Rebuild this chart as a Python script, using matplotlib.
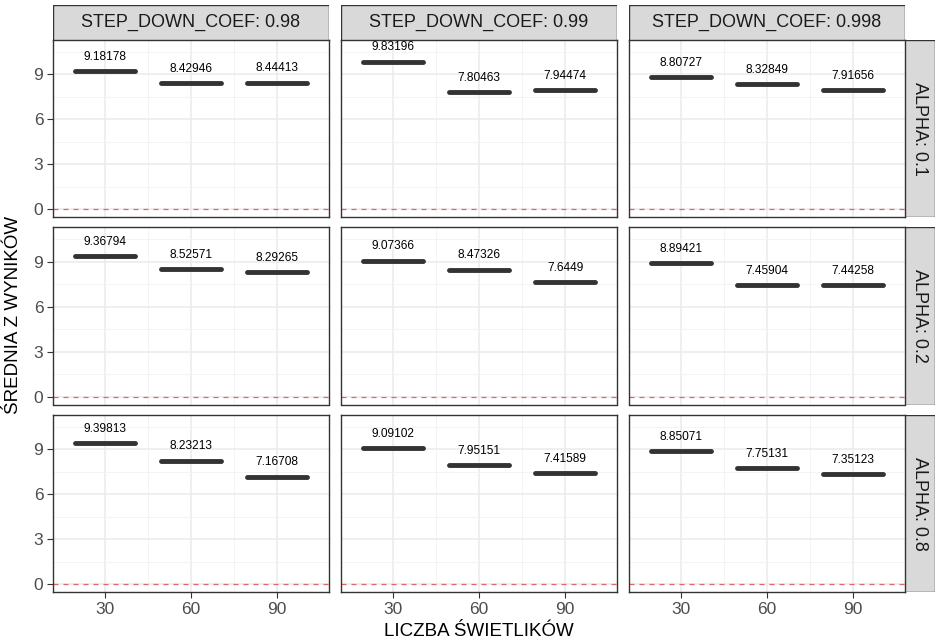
import numpy as np
import matplotlib
matplotlib.use("Agg")
import matplotlib.pyplot as plt
from matplotlib.patches import Rectangle

plt.rcParams['font.family'] = ['Liberation Sans', 'DejaVu Sans']

# data
swietliki = [30, 60, 90]
step_coefs = ["0.98", "0.99", "0.998"]
alphas = ["0.1", "0.2", "0.8"]

alpha_01 = [[9.18178, 8.42946, 8.44413],
            [9.83196, 7.80463, 7.94474],
            [8.80727, 8.32849, 7.91656]]
alpha_02 = [[9.36794, 8.52571, 8.29265],
            [9.07366, 8.47326, 7.6449],
            [8.89421, 7.45904, 7.44258]]
alpha_08 = [[9.39813, 8.23213, 7.16708],
            [9.09102, 7.95151, 7.41589],
            [8.85071, 7.75131, 7.35123]]
wyniki = [alpha_01, alpha_02, alpha_08]

W, H = 937, 643
fig = plt.figure(figsize=(W / 100, H / 100), dpi=100)

col_left = [53, 341, 629]
row_top = [40, 227.5, 415]
pw, ph = 276, 177
dark = '#333333'

def fx(px):
    return px / W

def fy(py):
    return 1 - py / H

for r in range(3):
    for c in range(3):
        ax = fig.add_axes([fx(col_left[c]), fy(row_top[r] + ph), fx(pw), ph / H])
        ax.set_xlim(12, 108)
        ax.set_ylim(-0.52, 11.28)
        ax.set_xticks(swietliki)
        ax.set_yticks([0, 3, 6, 9])
        ax.set_xticks([45, 75], minor=True)
        ax.set_yticks([1.5, 4.5, 7.5, 10.5], minor=True)
        ax.grid(True, which='major', color='#ebebeb', linewidth=1.1)
        ax.grid(True, which='minor', color='#f2f2f2', linewidth=0.6)
        ax.set_axisbelow(True)
        for s in ax.spines.values():
            s.set_color(dark)
            s.set_linewidth(1.0)
        ax.tick_params(which='major', length=4, color=dark, labelsize=12.5,
                       labelcolor='#4d4d4d', pad=3)
        ax.tick_params(which='minor', length=0)
        if c > 0:
            ax.tick_params(axis='y', labelleft=False, length=0)
        if r < 2:
            ax.tick_params(axis='x', labelbottom=False, length=0)

        ax.axhline(0, color='#e06666', linestyle=(0, (4, 4)), linewidth=0.9)
        vals = wyniki[r][c]
        for x, v in zip(swietliki, vals):
            ax.plot([x - 10.5, x + 10.5], [v, v], color=dark, linewidth=3.5,
                    solid_capstyle='round')
            ax.text(x, v + 0.55, f"{v:g}", ha='center', va='bottom',
                    fontsize=8.6, color='black')

# top strips
for c in range(3):
    sax = fig.add_axes([fx(col_left[c]), fy(40), fx(pw), 35 / H])
    sax.add_patch(Rectangle((0, 0), 1, 1, transform=sax.transAxes,
                            facecolor='#d9d9d9', edgecolor=dark, linewidth=1.0))
    sax.text(0.5, 0.5, f"STEP_DOWN_COEF: {step_coefs[c]}", ha='center',
             va='center', fontsize=13, color='#1a1a1a', transform=sax.transAxes)
    sax.axis('off')

# right strips
for r in range(3):
    sax = fig.add_axes([fx(905), fy(row_top[r] + ph), fx(30), ph / H])
    sax.add_patch(Rectangle((0, 0), 1, 1, transform=sax.transAxes,
                            facecolor='#d9d9d9', edgecolor=dark, linewidth=1.0))
    sax.text(0.5, 0.5, f"ALPHA: {alphas[r]}", ha='center', va='center',
             rotation=-90, fontsize=13, color='#1a1a1a', transform=sax.transAxes)
    sax.axis('off')

fig.text(fx(479), fy(631), "LICZBA ŚWIETLIKÓW", ha='center', va='center',
         fontsize=13.5, color='black')
fig.text(fx(14), fy(315), "ŚREDNIA Z WYNIKÓW", ha='center', va='center',
         rotation=90, fontsize=13.5, color='black')

plt.savefig('out.png', dpi=100)
